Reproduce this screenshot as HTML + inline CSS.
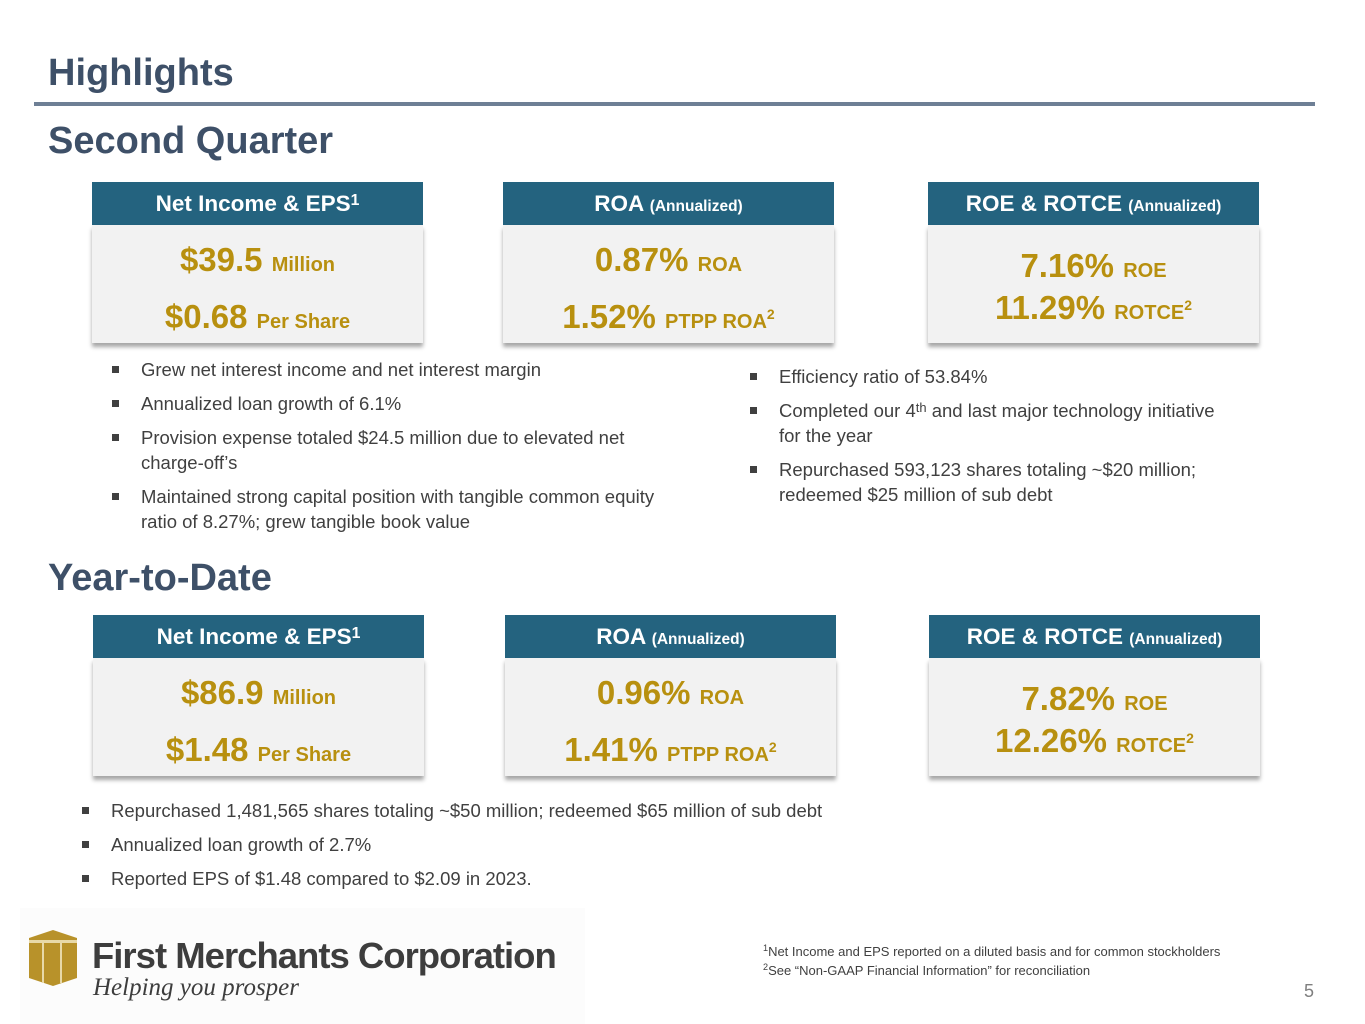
<!DOCTYPE html>
<html><head><meta charset="utf-8"><style>
*{margin:0;padding:0;box-sizing:border-box}
body{width:1365px;height:1024px;background:#fff;position:relative;overflow:hidden;font-family:"Liberation Sans",Arial,sans-serif}
.abs{position:absolute}
.h1{color:#3e5068;font-weight:bold;font-size:38px;left:48px;white-space:nowrap}
.card{position:absolute;width:331px}
.hd{background:#24637f;color:#fff;font-weight:bold;font-size:22.5px;height:43px;line-height:43px;text-align:center;white-space:nowrap}
.hd small{font-size:15.5px}
.bd{background:#f2f2f2;height:118px;box-shadow:0 4px 4px rgba(0,0,0,.35);position:relative}
.v{position:absolute;left:0;right:0;text-align:center;color:#b8900f;font-weight:bold;font-size:33px;white-space:nowrap;line-height:36px}
.v small{font-size:20px}
sup{font-size:70%;vertical-align:top;position:relative;top:-3px}
ul{list-style:none;position:absolute;color:#404040;font-size:18.5px;line-height:25px;white-space:nowrap}
li{position:relative;padding-left:29px;margin-bottom:9px}
li:before{content:"";position:absolute;left:0;top:9px;width:7px;height:7px;background:#404040}
.fn{font-size:13px;color:#404040;line-height:19px}
</style></head><body>
<div class="abs h1" style="top:52px">Highlights</div>
<div class="abs" style="left:34px;top:102px;width:1281px;height:4px;background:#6e7f95"></div>
<div class="abs h1" style="top:120px">Second Quarter</div>

<div class="card" style="left:92px;top:182px">
<div class="hd">Net Income &amp; EPS<sup>1</sup></div>
<div class="bd"><div class="v" style="top:17px">$39.5 <small>Million</small></div><div class="v" style="top:74px">$0.68 <small>Per Share</small></div></div></div>
<div class="card" style="left:503px;top:182px">
<div class="hd">ROA <small>(Annualized)</small></div>
<div class="bd"><div class="v" style="top:17px">0.87% <small>ROA</small></div><div class="v" style="top:74px">1.52% <small>PTPP ROA<sup>2</sup></small></div></div></div>
<div class="card" style="left:928px;top:182px">
<div class="hd">ROE &amp; ROTCE <small>(Annualized)</small></div>
<div class="bd"><div class="v" style="top:23px">7.16% <small>ROE</small></div><div class="v" style="top:65px">11.29% <small>ROTCE<sup>2</sup></small></div></div></div>

<ul style="left:112px;top:357px">
<li>Grew net interest income and net interest margin</li>
<li>Annualized loan growth of 6.1%</li>
<li>Provision expense totaled $24.5 million due to elevated net<br>charge-off’s</li>
<li>Maintained strong capital position with tangible common equity<br>ratio of 8.27%; grew tangible book value</li>
</ul>
<ul style="left:750px;top:364px">
<li>Efficiency ratio of 53.84%</li>
<li>Completed our 4<sup>th</sup> and last major technology initiative<br>for the year</li>
<li>Repurchased 593,123 shares totaling ~$20 million;<br>redeemed $25 million of sub debt</li>
</ul>

<div class="abs h1" style="top:557px">Year-to-Date</div>

<div class="card" style="left:93px;top:615px">
<div class="hd">Net Income &amp; EPS<sup>1</sup></div>
<div class="bd"><div class="v" style="top:17px">$86.9 <small>Million</small></div><div class="v" style="top:74px">$1.48 <small>Per Share</small></div></div></div>
<div class="card" style="left:505px;top:615px">
<div class="hd">ROA <small>(Annualized)</small></div>
<div class="bd"><div class="v" style="top:17px">0.96% <small>ROA</small></div><div class="v" style="top:74px">1.41% <small>PTPP ROA<sup>2</sup></small></div></div></div>
<div class="card" style="left:929px;top:615px">
<div class="hd">ROE &amp; ROTCE <small>(Annualized)</small></div>
<div class="bd"><div class="v" style="top:23px">7.82% <small>ROE</small></div><div class="v" style="top:65px">12.26% <small>ROTCE<sup>2</sup></small></div></div></div>

<ul style="left:82px;top:798px">
<li>Repurchased 1,481,565 shares totaling ~$50 million; redeemed $65 million of sub debt</li>
<li>Annualized loan growth of 2.7%</li>
<li>Reported EPS of $1.48 compared to $2.09 in 2023.</li>
</ul>

<div class="abs" style="left:20px;top:908px;width:565px;height:116px;background:#fcfcfc">
<svg class="abs" style="left:9px;top:22px" width="48" height="56" viewBox="0 0 48 56"><polygon points="0,8 24,0 48,8 48,48 24,56 0,48" fill="#b8922a"/><rect x="0" y="10" width="48" height="3" fill="#e8d9a8"/><rect x="13" y="13" width="2" height="40" fill="#e8d9a8"/><rect x="31" y="13" width="2" height="40" fill="#e8d9a8"/></svg>
<div class="abs" style="left:72px;top:27px;font-size:36.5px;font-weight:bold;color:#3d3d3d;letter-spacing:-1px;white-space:nowrap">First Merchants Corporation</div>
<div class="abs" style="left:73px;top:66px;font-family:'Liberation Serif',serif;font-style:italic;font-size:25px;color:#3d3d3d;white-space:nowrap">Helping you prosper</div>
</div>

<div class="abs fn" style="left:763px;top:942px"><sup>1</sup>Net Income and EPS reported on a diluted basis and for common stockholders<br><sup>2</sup>See “Non-GAAP Financial Information” for reconciliation</div>
<div class="abs" style="left:1304px;top:981px;font-size:18px;color:#7f7f7f">5</div>
</body></html>
